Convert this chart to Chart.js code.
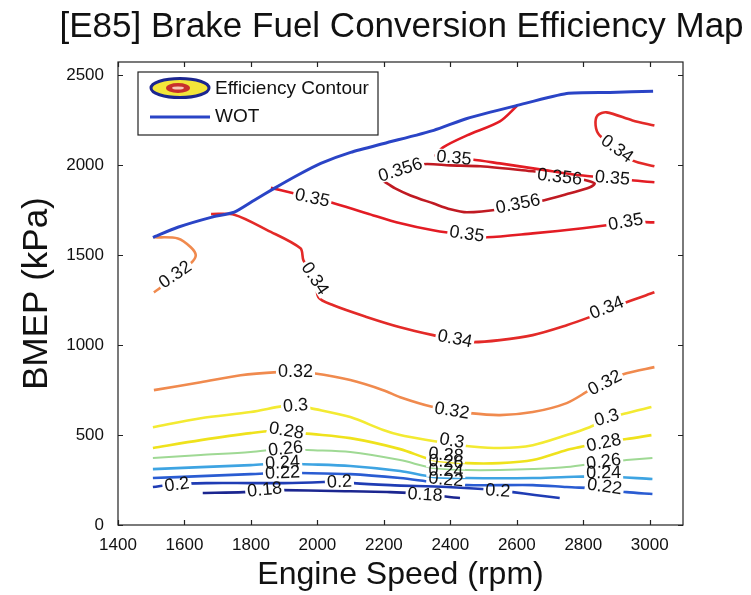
<!DOCTYPE html>
<html>
<head>
<meta charset="utf-8">
<title>[E85] Brake Fuel Conversion Efficiency Map</title>
<script src="https://cdn.jsdelivr.net/npm/chart.js@4.4.1/dist/chart.umd.min.js"></script>
<style>
  html, body { margin: 0; padding: 0; background: #fff; }
  #wrap { width: 751px; height: 595px; }
</style>
</head>
<body>
<div id="wrap"><canvas id="map" width="751" height="595"></canvas></div>
<script>
const rpmTicks = [1400, 1600, 1800, 2000, 2200, 2400, 2600, 2800, 3000];
const bmepTicks = [0, 500, 1000, 1500, 2000, 2500];

// full load line, [rpm, kPa]
const wotCurve = [[1505, 1600], [1580, 1656], [1680, 1711], [1750, 1740], [1810, 1806], [1870, 1872],
  [1940, 1945], [2010, 2011], [2100, 2072], [2200, 2122], [2350, 2195], [2450, 2261], [2600, 2333],
  [2750, 2400], [2880, 2406], [3010, 2412]];

// iso-efficiency lines, [rpm, kPa]
const eff018 = [[1655, 178], [1778, 183], [1841, 194], [1898, 194], [2048, 189], [2219, 183], [2327, 172],
  [2369, 161], [2429, 150]];
const eff020 = [[1505, 211], [1577, 228], [1670, 233], [1799, 233], [1898, 233], [2018, 239], [2066, 244],
  [2108, 233], [2219, 222], [2390, 211], [2543, 194], [2588, 183], [2654, 167], [2729, 150]];
const eff022 = [[1505, 261], [1649, 272], [1799, 283], [1895, 289], [1949, 289], [2099, 283], [2249, 261],
  [2348, 239], [2450, 222], [2648, 222], [2750, 211], [2861, 200], [2930, 183], [3008, 172]];
const eff024 = [[1505, 311], [1649, 322], [1799, 333], [1901, 344], [1949, 339], [2099, 328], [2249, 300],
  [2348, 267], [2450, 261], [2648, 261], [2750, 267], [2861, 270], [3008, 256]];
const eff026 = [[1505, 372], [1649, 389], [1799, 406], [1904, 425], [1970, 417], [2099, 406], [2249, 361],
  [2348, 317], [2450, 306], [2549, 306], [2648, 311], [2750, 322], [2864, 350], [2930, 361], [3008, 372]];
const eff028 = [[1505, 428], [1649, 472], [1799, 511], [1904, 528], [1958, 511], [2099, 483], [2249, 422],
  [2348, 361], [2450, 344], [2549, 344], [2648, 361], [2750, 417], [2789, 433], [2861, 461], [2930, 478],
  [3005, 500]];
const eff030 = [[1505, 544], [1649, 594], [1799, 628], [1895, 661], [1934, 667], [1979, 650], [2099, 600],
  [2198, 528], [2249, 500], [2348, 467], [2405, 450], [2450, 439], [2549, 428], [2648, 444], [2750, 500],
  [2819, 544], [2870, 590], [2930, 622], [3005, 656]];
const eff032 = [[1508, 750], [1649, 794], [1769, 833], [1880, 850], [1934, 850], [1988, 844], [2099, 806],
  [2198, 750], [2249, 711], [2348, 656], [2405, 639], [2459, 622], [2549, 611], [2648, 628], [2750, 678],
  [2819, 750], [2864, 794], [2930, 844], [3014, 878]];
const eff032Low = [[1508, 1600], [1580, 1594], [1619, 1545], [1634, 1500], [1619, 1456], [1571, 1395],
  [1529, 1322], [1508, 1294]];
const eff034 = [[1680, 1730], [1750, 1726], [1850, 1639], [1949, 1539], [1958, 1472], [1994, 1372],
  [2003, 1267], [2048, 1222], [2150, 1156], [2249, 1100], [2348, 1056], [2414, 1033], [2465, 1017],
  [2549, 1028], [2648, 1056], [2750, 1111], [2819, 1156], [2870, 1194], [2930, 1239], [3014, 1294]];
const eff034High = [[3014, 2222], [2948, 2250], [2870, 2295], [2843, 2278], [2837, 2222], [2849, 2167],
  [2903, 2095], [2948, 2028], [3014, 1995]];
const eff035 = [[1860, 1875], [1928, 1845], [1985, 1822], [2040, 1795], [2150, 1733], [2250, 1678],
  [2348, 1639], [2450, 1611], [2510, 1600], [2648, 1622], [2798, 1650], [2870, 1667], [2927, 1685],
  [3014, 1683]];
const eff035High = [[2600, 2330], [2549, 2245], [2450, 2167], [2378, 2100], [2357, 2050], [2465, 2033],
  [2549, 2011], [2669, 1978], [2789, 1945], [2888, 1930], [2945, 1917], [3014, 1906]];
const eff0356 = [[2195, 1917], [2249, 1967], [2315, 2006], [2400, 2000], [2490, 1995], [2648, 1967],
  [2730, 1950], [2798, 1922], [2834, 1900], [2820, 1878], [2760, 1845], [2670, 1800], [2550, 1756],
  [2450, 1739], [2400, 1756], [2348, 1789], [2280, 1833], [2234, 1872], [2195, 1917]];

const contourPieces = [
  [0.18, eff018], [0.2, eff020], [0.22, eff022], [0.24, eff024], [0.26, eff026], [0.28, eff028],
  [0.3, eff030], [0.32, eff032], [0.32, eff032Low], [0.34, eff034], [0.34, eff034High],
  [0.35, eff035], [0.35, eff035High], [0.356, eff0356],
];

// inline level labels, [level, rpm, kPa]
const contourLabels = [
  [0.18, 1841, 200], [0.18, 2324, 172],
  [0.2, 1577, 228], [0.2, 2066, 244], [0.2, 2543, 194],
  [0.22, 1895, 294], [0.22, 2387, 256], [0.22, 2864, 217],
  [0.24, 1895, 350], [0.24, 2387, 306], [0.24, 2861, 294],
  [0.26, 1904, 428], [0.26, 2387, 356], [0.26, 2861, 356],
  [0.28, 1907, 528], [0.28, 2387, 394], [0.28, 2861, 461],
  [0.3, 1934, 667], [0.3, 2405, 472], [0.3, 2870, 600],
  [0.32, 1571, 1395], [0.32, 1934, 856], [0.32, 2405, 639], [0.32, 2864, 794],
  [0.34, 1994, 1372], [0.34, 2414, 1039], [0.34, 2870, 1211], [0.34, 2903, 2095],
  [0.35, 1985, 1822], [0.35, 2450, 1622], [0.35, 2927, 1689], [0.35, 2411, 2045], [0.35, 2888, 1933],
  [0.356, 2249, 1978], [0.356, 2729, 1939], [0.356, 2603, 1789],
];

const FONT = "'Liberation Sans', Arial, Helvetica, sans-serif";
const LABEL_FONT = "18px " + FONT;
Chart.defaults.font.family = FONT;
Chart.defaults.color = "#111";

function levelColor(level) {
  if (level <= 0.18) return "#1b2690";
  if (level <= 0.2) return "#1f3cb4";
  if (level <= 0.22) return "#2a5cd2";
  if (level <= 0.24) return "#3ea4e2";
  if (level <= 0.26) return "#9fd994";
  if (level <= 0.28) return "#efe21c";
  if (level <= 0.3) return "#f3ea32";
  if (level <= 0.32) return "#f08a4e";
  if (level <= 0.34) return "#e32a28";
  if (level <= 0.35) return "#e31c24";
  return "#c01a22";
}

const toPoints = (pts) => pts.map(([x, y]) => ({ x, y }));

const datasets = [
  {
    label: "WOT",
    data: toPoints(wotCurve),
    borderColor: "#2a44c6",
    borderWidth: 3,
    showLine: true,
    pointRadius: 0,
    tension: 0.2,
  },
];
contourPieces.forEach(([level, pts]) => {
  datasets.push({
    label: "Efficiency Contour",
    level,
    data: toPoints(pts),
    borderColor: levelColor(level),
    borderWidth: level === 0.26 ? 2 : 2.6,
    showLine: true,
    pointRadius: 0,
    tension: 0.3,
  });
});

function segDist(px, py, ax, ay, bx, by) {
  const dx = bx - ax, dy = by - ay;
  const len = dx * dx + dy * dy;
  let t = len ? ((px - ax) * dx + (py - ay) * dy) / len : 0;
  t = Math.max(0, Math.min(1, t));
  return Math.hypot(px - ax - t * dx, py - ay - t * dy);
}

// position, angle and size of each inline label, following its own line
function labelBoxes(chart) {
  const xs = chart.scales.x, ys = chart.scales.y, ctx = chart.ctx;
  ctx.save();
  ctx.font = LABEL_FONT;
  const boxes = contourLabels.map(([level, rpm, kpa]) => {
    const cx = xs.getPixelForValue(rpm), cy = ys.getPixelForValue(kpa);
    let best = Infinity, ang = 0;
    contourPieces.forEach(([lv, pts]) => {
      if (lv !== level) return;
      for (let i = 1; i < pts.length; i++) {
        const ax = xs.getPixelForValue(pts[i - 1][0]), ay = ys.getPixelForValue(pts[i - 1][1]);
        const bx = xs.getPixelForValue(pts[i][0]), by = ys.getPixelForValue(pts[i][1]);
        const d = segDist(cx, cy, ax, ay, bx, by);
        if (d < best) { best = d; ang = Math.atan2(by - ay, bx - ax); }
      }
    });
    if (ang > Math.PI / 2) ang -= Math.PI;
    if (ang < -Math.PI / 2) ang += Math.PI;
    const text = String(level);
    return { level, text, cx, cy, ang, w: ctx.measureText(text).width + 4, h: 15 };
  });
  ctx.restore();
  return boxes;
}

// break every contour line where its labels sit, then write the labels
const contourLabelPlugin = {
  id: "contourLabels",
  beforeDatasetDraw(chart, args) {
    const ds = chart.data.datasets[args.index];
    if (ds.level === undefined) return;
    const { left, top, right, bottom } = chart.chartArea;
    const ctx = chart.ctx;
    ctx.save();
    ctx.beginPath();
    ctx.rect(left, top, right - left, bottom - top);
    labelBoxes(chart).filter((b) => b.level === ds.level).forEach((b) => {
      const c = Math.cos(b.ang), s = Math.sin(b.ang);
      const corners = [[-b.w / 2, -b.h / 2], [b.w / 2, -b.h / 2], [b.w / 2, b.h / 2], [-b.w / 2, b.h / 2]];
      corners.forEach(([u, v], i) => {
        const x = b.cx + u * c - v * s, y = b.cy + u * s + v * c;
        if (i === 0) ctx.moveTo(x, y); else ctx.lineTo(x, y);
      });
      ctx.closePath();
    });
    ctx.clip("evenodd");
    args.meta._labelClip = true;
  },
  afterDatasetDraw(chart, args) {
    if (args.meta._labelClip) {
      chart.ctx.restore();
      args.meta._labelClip = false;
    }
  },
  afterDatasetsDraw(chart) {
    const ctx = chart.ctx;
    ctx.save();
    ctx.font = LABEL_FONT;
    ctx.fillStyle = "#111";
    ctx.textAlign = "center";
    ctx.textBaseline = "middle";
    labelBoxes(chart).forEach((b) => {
      ctx.save();
      ctx.translate(b.cx, b.cy);
      ctx.rotate(b.ang);
      ctx.fillText(b.text, 0, 1);
      ctx.restore();
    });
    ctx.restore();
  },
};

// axes box with inward tick marks on all four sides, plus the legend box
const framePlugin = {
  id: "frame",
  afterLayout(chart) {
    // let the heading run wider than the plot, a little right of the page centre
    const t = chart.titleBlock;
    if (t) {
      t.left = 52;
      t.right = 751;
      t.width = t.right - t.left;
    }
  },
  afterDraw(chart) {
    const ctx = chart.ctx;
    const { left, top, right, bottom } = chart.chartArea;
    const xs = chart.scales.x, ys = chart.scales.y;
    ctx.save();
    ctx.strokeStyle = "#222";
    ctx.lineWidth = 1.2;
    ctx.strokeRect(left, top, right - left, bottom - top);
    ctx.beginPath();
    rpmTicks.forEach((v) => {
      const x = Math.round(xs.getPixelForValue(v)) + 0.5;
      ctx.moveTo(x, bottom); ctx.lineTo(x, bottom - 5);
      ctx.moveTo(x, top); ctx.lineTo(x, top + 5);
    });
    bmepTicks.forEach((v) => {
      const y = Math.round(ys.getPixelForValue(v)) + 0.5;
      ctx.moveTo(left, y); ctx.lineTo(left + 5, y);
      ctx.moveTo(right, y); ctx.lineTo(right - 5, y);
    });
    ctx.stroke();

    // legend
    const lx = left + 20, ly = top + 10, lw = 240, lh = 63;
    ctx.fillStyle = "#fff";
    ctx.fillRect(lx, ly, lw, lh);
    ctx.strokeStyle = "#222";
    ctx.lineWidth = 1.2;
    ctx.strokeRect(lx, ly, lw, lh);

    const ix = lx + 42, iy = ly + 16;
    ctx.beginPath();
    ctx.ellipse(ix, iy, 29, 9.5, 0, 0, Math.PI * 2);
    ctx.fillStyle = "#f3e63a";
    ctx.fill();
    ctx.lineWidth = 3;
    ctx.strokeStyle = "#1b2690";
    ctx.stroke();
    ctx.beginPath();
    ctx.ellipse(ix - 2, iy, 12, 5, 0, 0, Math.PI * 2);
    ctx.fillStyle = "#c8302c";
    ctx.fill();
    ctx.beginPath();
    ctx.ellipse(ix - 2, iy, 6, 1.6, 0, 0, Math.PI * 2);
    ctx.fillStyle = "#f6c8b8";
    ctx.fill();

    ctx.beginPath();
    ctx.moveTo(lx + 12, ly + 45);
    ctx.lineTo(lx + 72, ly + 45);
    ctx.strokeStyle = chart.data.datasets[0].borderColor;
    ctx.lineWidth = 3;
    ctx.stroke();

    ctx.fillStyle = "#111";
    ctx.font = "19px " + FONT;
    ctx.textAlign = "left";
    ctx.textBaseline = "middle";
    ctx.fillText("Efficiency Contour", lx + 77, iy + 1);
    ctx.fillText(chart.data.datasets[0].label, lx + 77, ly + 45);
    ctx.restore();
  },
};

new Chart(document.getElementById("map"), {
  type: "scatter",
  data: { datasets },
  options: {
    responsive: false,
    animation: false,
    devicePixelRatio: 1,
    layout: { padding: { left: 0, right: 68, top: 0, bottom: 0 } },
    plugins: {
      legend: { display: false },
      tooltip: { enabled: false },
      title: {
        display: true,
        fullSize: false,
        text: "[E85] Brake Fuel Conversion Efficiency Map",
        color: "#111",
        font: { size: 35, weight: "normal" },
        padding: { top: 6, bottom: 14 },
      },
    },
    scales: {
      x: {
        type: "linear",
        min: 1400,
        max: 3100,
        afterBuildTicks: (scale) => { scale.ticks = rpmTicks.map((value) => ({ value })); },
        afterFit: (scale) => { scale.height = 70; },
        grid: { display: false },
        border: { display: false },
        ticks: {
          color: "#111",
          font: { size: 17 },
          padding: 2,
          maxRotation: 0,
          autoSkip: false,
          callback: (v) => String(v),
        },
        title: {
          display: true,
          text: "Engine Speed (rpm)",
          color: "#111",
          font: { size: 32 },
          padding: { top: 0, bottom: 1 },
        },
      },
      y: {
        type: "linear",
        min: 0,
        max: 2575,
        afterBuildTicks: (scale) => { scale.ticks = bmepTicks.map((value) => ({ value })); },
        afterFit: (scale) => { scale.width = 118; },
        grid: { display: false },
        border: { display: false },
        ticks: { color: "#111", font: { size: 17 }, padding: 6, autoSkip: false, callback: (v) => String(v) },
        title: {
          display: true,
          text: "BMEP (kPa)",
          color: "#111",
          font: { size: 35 },
          padding: { top: 16, bottom: 0 },
        },
      },
    },
  },
  plugins: [contourLabelPlugin, framePlugin],
});
</script>
</body>
</html>
